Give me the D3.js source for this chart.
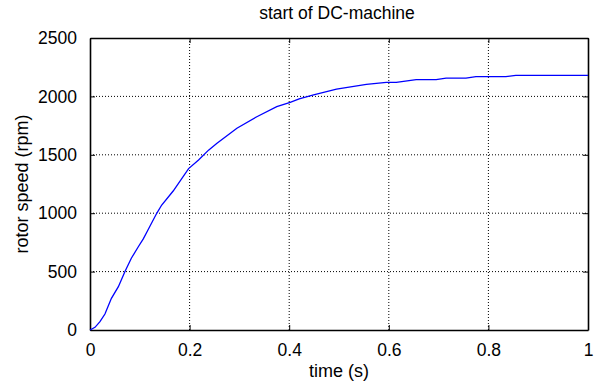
<!DOCTYPE html>
<html>
<head>
<meta charset="utf-8">
<script src="https://cdn.jsdelivr.net/npm/d3@7"></script>
<style>
  body { margin: 0; background: #fff; }
  svg { display: block; font-family: Arial, "Liberation Sans", sans-serif; }
</style>
</head>
<body>
<div id="chart"></div>
<script>
// time (s) and rotor speed (rpm)
var time  = [0, 0.01, 0.02, 0.03, 0.043, 0.057, 0.07, 0.083, 0.097, 0.107, 0.114, 0.134, 0.144, 0.167, 0.198, 0.218, 0.238, 0.255, 0.295, 0.335, 0.375, 0.402, 0.42, 0.449, 0.495, 0.555, 0.595, 0.615, 0.655, 0.695, 0.715, 0.755, 0.775, 0.835, 0.855, 1.0];
var speed = [0, 23, 71, 137, 271, 371, 499, 614, 713, 780, 837, 999, 1070, 1190, 1382, 1455, 1540, 1598, 1727, 1826, 1912, 1949, 1978, 2012, 2063, 2103, 2120, 2120, 2143, 2143, 2157, 2157, 2169, 2169, 2180, 2180];
var xTicks = [0, 0.2, 0.4, 0.6, 0.8, 1];
var yTicks = [0, 500, 1000, 1500, 2000, 2500];

var W = 595, H = 383;
var margin = {top: 38, right: 7, bottom: 53, left: 90};
var w = W - margin.left - margin.right,
    h = H - margin.top - margin.bottom;

var svg = d3.select("#chart").append("svg").attr("width", W).attr("height", H);
var g = svg.append("g").attr("transform", "translate(" + margin.left + "," + margin.top + ")");

var x = d3.scaleLinear().domain([0, 1]).range([0, w]);
var y = d3.scaleLinear().domain([0, 2500]).range([h, 0]);

// dotted grid
g.append("g").selectAll("line").data(xTicks.slice(1, -1)).enter().append("line")
  .attr("x1", d => x(d)).attr("x2", d => x(d)).attr("y1", 0).attr("y2", h)
  .attr("stroke", "#000").attr("stroke-width", 1).attr("stroke-dasharray", "1,2");
g.append("g").selectAll("line").data(yTicks.slice(1, -1)).enter().append("line")
  .attr("y1", d => y(d)).attr("y2", d => y(d)).attr("x1", 0).attr("x2", w)
  .attr("stroke", "#000").attr("stroke-width", 1).attr("stroke-dasharray", "1,2");

// axes with inward ticks (matlab style)
g.append("g").attr("transform", "translate(0," + h + ")")
  .call(d3.axisBottom(x).tickValues(xTicks).tickSizeInner(-5).tickSizeOuter(0).tickPadding(14).tickFormat(d3.format("")));
g.append("g")
  .call(d3.axisLeft(y).tickValues(yTicks).tickSizeInner(-5).tickSizeOuter(0).tickPadding(13).tickFormat(d3.format("")));
g.append("g").attr("transform", "translate(" + w + ",0)")
  .call(d3.axisRight(y).tickValues(yTicks).tickSizeInner(-5).tickSizeOuter(0).tickFormat(""));
g.append("g")
  .call(d3.axisTop(x).tickValues(xTicks).tickSizeInner(-5).tickSizeOuter(0).tickFormat(""));

g.selectAll(".domain").attr("stroke", "#000").attr("stroke-width", 1.6);
g.selectAll(".tick line").attr("stroke", "#000");
g.selectAll(".tick text").attr("fill", "#000").style("font-size", "17.5px");

// curve
var line = d3.line().x((d, i) => x(time[i])).y(d => y(d));
g.append("path").datum(speed).attr("d", line)
  .attr("fill", "none").attr("stroke", "#0000ff").attr("stroke-width", 1.3);

// labels
svg.append("text").attr("x", margin.left + w / 2 - 2).attr("y", 19)
  .attr("text-anchor", "middle").style("font-size", "17.5px").text("start of DC-machine");
svg.append("text").attr("x", margin.left + w / 2).attr("y", 377)
  .attr("text-anchor", "middle").style("font-size", "18px").text("time (s)");
svg.append("text").attr("transform", "translate(28," + (margin.top + h / 2) + ") rotate(-90)")
  .attr("text-anchor", "middle").style("font-size", "18px").text("rotor speed (rpm)");
</script>
</body>
</html>
